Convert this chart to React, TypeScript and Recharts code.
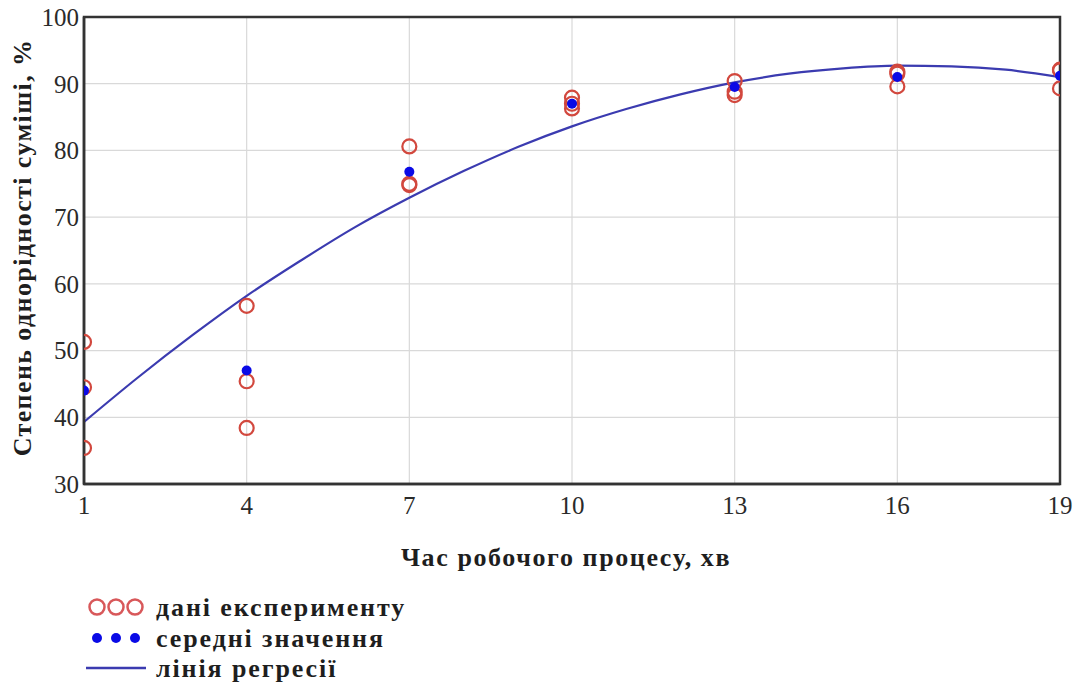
import React from "react";
import {
  ComposedChart,
  Scatter,
  Line,
  XAxis,
  YAxis,
  CartesianGrid,
  ReferenceArea,
} from "recharts";

// Mixing time, min
const times = [1, 4, 7, 10, 13, 16, 19];
// Homogeneity degree of the mixture for three repeated runs, %
const run1 = [51.3, 56.7, 80.6, 87.9, 90.4, 91.8, 92.1];
const run2 = [44.5, 45.4, 75.0, 87.0, 88.8, 91.5, 92.0];
const run3 = [35.4, 38.4, 74.8, 86.3, 88.3, 89.6, 89.3];
// Mean values
const means = [44.0, 47.0, 76.8, 87.0, 89.5, 91.0, 91.2];
// Regression curve samples
const regX = [1, 2, 3, 4, 5, 6, 7, 8, 9, 10, 11, 12, 13, 14, 15, 16, 17, 18, 19];
const regY = [39.3, 46.0, 52.3, 58.2, 63.5, 68.5, 72.9, 76.9, 80.5, 83.6, 86.2, 88.4, 90.2, 91.5, 92.3, 92.7, 92.6, 92.1, 91.0];

const xTicks = [1, 4, 7, 10, 13, 16, 19];
const yTicks = [30, 40, 50, 60, 70, 80, 90, 100];

const xTitle = "Час робочого процесу, хв";
const yTitle = "Степень однорідності суміші, %";
const legendLabels = ["дані експерименту", "середні значення", "лінія регресії"];

const RED = "#d2483e";
const BLUE = "#0a0ae6";
const LINE = "#3b3bb0";
const FONT = "'Liberation Serif', 'Times New Roman', serif";

// Chart geometry
const W = 1086;
const H = 688;
const MARGIN = { top: 17, right: 26, bottom: 114, left: 0 };
const Y_AXIS_W = 84;
const X_AXIS_H = 90;
const PLOT = {
  x: MARGIN.left + Y_AXIS_W,
  y: MARGIN.top,
  width: W - MARGIN.left - Y_AXIS_W - MARGIN.right,
  height: H - MARGIN.top - MARGIN.bottom - X_AXIS_H,
};

const experimentData = times.flatMap((t, i) => [
  { x: t, y: run1[i] },
  { x: t, y: run2[i] },
  { x: t, y: run3[i] },
]);
const meanData = times.map((t, i) => ({ x: t, y: means[i] }));
const regData = regX.map((t, i) => ({ x: t, y: regY[i] }));

// Markers are clipped to the plotting frame
const HollowCircle = (props: any) => (
  <circle
    cx={props.cx}
    cy={props.cy}
    r={7}
    fill="none"
    stroke={RED}
    strokeWidth={2.2}
    clipPath="url(#plot-frame-clip)"
  />
);
const FilledDot = (props: any) => (
  <circle cx={props.cx} cy={props.cy} r={5} fill={BLUE} clipPath="url(#plot-frame-clip)" />
);

const XTitle = (props: any) => {
  const vb = props.viewBox || {};
  return (
    <text
      x={vb.x + vb.width / 2 - 6}
      y={566}
      textAnchor="middle"
      style={{ fontFamily: FONT, fontWeight: "bold", fontSize: 26, letterSpacing: 1.6 }}
      fill="#1e1e1e"
    >
      {xTitle}
    </text>
  );
};

const YTitle = (props: any) => {
  const vb = props.viewBox || {};
  const cy = vb.y + vb.height / 2 - 3;
  return (
    <text
      x={31}
      y={cy}
      transform={`rotate(-90, 31, ${cy})`}
      textAnchor="middle"
      style={{ fontFamily: FONT, fontWeight: "bold", fontSize: 26, letterSpacing: 1.4 }}
      fill="#1e1e1e"
    >
      {yTitle}
    </text>
  );
};

const LegendBlock = () => {
  const textStyle: React.CSSProperties = {
    fontFamily: FONT,
    fontWeight: "bold",
    fontSize: 26,
    letterSpacing: 1.9,
  };
  const mx = [97, 116, 135];
  return (
    <svg width={440} height={100} style={{ position: "absolute", left: 0, top: 588 }}>
      {mx.map((x) => (
        <circle key={"c" + x} cx={x} cy={19} r={7.5} fill="none" stroke="#d8585a" strokeWidth={2.5} />
      ))}
      <text x={156} y={28} style={textStyle} fill="#1e1e1e">{legendLabels[0]}</text>
      {mx.map((x) => (
        <circle key={"d" + x} cx={x} cy={50} r={5} fill={BLUE} />
      ))}
      <text x={156} y={59} style={textStyle} fill="#1e1e1e">{legendLabels[1]}</text>
      <line x1={86} x2={146} y1={80} y2={80} stroke={LINE} strokeWidth={2.5} />
      <text x={156} y={89} style={textStyle} fill="#1e1e1e">{legendLabels[2]}</text>
    </svg>
  );
};

export default function App() {
  return (
    <div style={{ position: "absolute", left: 0, top: 0, width: W, height: H, background: "#fff" }}>
      <svg width={0} height={0} style={{ position: "absolute" }}>
        <defs>
          <clipPath id="plot-frame-clip" clipPathUnits="userSpaceOnUse">
            <rect x={PLOT.x} y={PLOT.y} width={PLOT.width} height={PLOT.height} />
          </clipPath>
        </defs>
      </svg>
      <ComposedChart width={W} height={H} margin={MARGIN}>
        <CartesianGrid stroke="#d9d9d9" strokeWidth={1.2} />
        <XAxis
          type="number"
          dataKey="x"
          domain={[1, 19]}
          ticks={xTicks}
          allowDataOverflow
          height={X_AXIS_H}
          tickLine={false}
          tickSize={0}
          tickMargin={12}
          axisLine={{ stroke: "#333", strokeWidth: 2.5 }}
          tick={{ fontFamily: FONT, fontSize: 25, fill: "#2a2a2a" }}
          label={<XTitle />}
        />
        <YAxis
          type="number"
          dataKey="y"
          domain={[30, 100]}
          ticks={yTicks}
          allowDataOverflow
          width={Y_AXIS_W}
          tickLine={false}
          tickSize={0}
          tickMargin={5}
          axisLine={{ stroke: "#333", strokeWidth: 2.5 }}
          tick={{ fontFamily: FONT, fontSize: 25, fill: "#2a2a2a" }}
          label={<YTitle />}
        />
        <Line
          data={regData}
          dataKey="y"
          type="monotone"
          stroke={LINE}
          strokeWidth={2.2}
          dot={false}
          isAnimationActive={false}
        />
        <Scatter data={experimentData} shape={HollowCircle} isAnimationActive={false} />
        <Scatter data={meanData} shape={FilledDot} isAnimationActive={false} />
        <ReferenceArea x1={1} x2={19} y1={30} y2={100} fill="none" stroke="#333" strokeWidth={2.5} fillOpacity={0} />
      </ComposedChart>
      <LegendBlock />
    </div>
  );
}
